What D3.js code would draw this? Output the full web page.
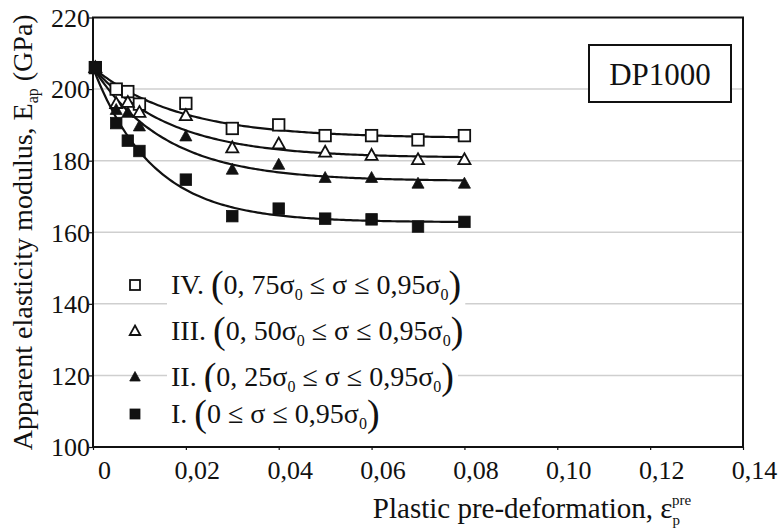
<!DOCTYPE html>
<html>
<head>
<meta charset="utf-8">
<script src="https://cdn.jsdelivr.net/npm/d3@7"></script>
<style>
  html, body { margin: 0; padding: 0; background: #fff; }
  svg { display: block; }
  text { font-family: "Liberation Serif", "Times New Roman", serif; fill: #111; }
</style>
</head>
<body>
<svg id="chart" width="778" height="531"></svg>
<script>
// ---------------- data ----------------
const strain = [0.0005, 0.005, 0.0075, 0.01, 0.02, 0.03, 0.04, 0.05, 0.06, 0.07, 0.08];
const seriesIV  = [206, 200, 199.3, 195.8, 196, 189, 190, 187, 187, 185.8, 187];
const seriesIII = [206, 196, 196.3, 193.5, 192.6, 183.6, 184.7, 182.4, 181.5, 180.3, 180.3];
const seriesII  = [206, 194.2, 193.4, 189.6, 186.8, 177.5, 178.9, 175.2, 175.2, 173.6, 173.6];
const seriesI   = [206, 190.5, 185.6, 182.7, 174.7, 164.5, 166.6, 163.8, 163.6, 161.6, 162.9];
const seriesNames = ["IV.", "III.", "II.", "I."];
const lowerBound = ["0, 75σ", "0, 50σ", "0, 25σ", "0"];
const lowerHasSub = [true, true, true, false];
const markerKinds = ["openSquare", "openTriangle", "filledTriangle", "filledSquare"];
const yTicks = [100, 120, 140, 160, 180, 200, 220];
const xTicks = [0, 0.02, 0.04, 0.06, 0.08, 0.10, 0.12, 0.14];
const xTickLabels = ["0", "0,02", "0,04", "0,06", "0,08", "0,10", "0,12", "0,14"];
const materialLabel = "DP1000";

const allSeries = [seriesIV, seriesIII, seriesII, seriesI];

// ---------------- layout ----------------
const svg = d3.select("#chart");
const L = 93, R = 743, T = 17.5, B = 447;
const x = d3.scaleLinear().domain([0, 0.14]).range([L, R]);
const y = d3.scaleLinear().domain([100, 220]).range([B, T]);

// gridlines
svg.append("g").selectAll("line").data(yTicks.filter(v => v > 100 && v < 220)).join("line")
  .attr("x1", L).attr("x2", R)
  .attr("y1", d => y(d)).attr("y2", d => y(d))
  .attr("stroke", "#cfcfcf").attr("stroke-width", 1.5);

// fitted trend curves y = a + (y0 - a) * exp(-x / c)
function fit(xs, ys) {
  const y0 = ys[0];
  let best = {a: 0, c: 0, e: Infinity};
  for (let a = 140; a <= 205; a += 0.1) {
    for (let c = 0.002; c <= 0.06; c += 0.0002) {
      let e = 0;
      for (let i = 0; i < xs.length; i++) {
        const p = a + (y0 - a) * Math.exp(-xs[i] / c);
        e += (p - ys[i]) ** 2;
      }
      if (e < best.e) best = {a, c, e};
    }
  }
  return x0 => best.a + (y0 - best.a) * Math.exp(-x0 / best.c);
}
const line = d3.line().x(d => x(d[0])).y(d => y(d[1])).curve(d3.curveLinear);
allSeries.forEach(s => {
  const f = fit(strain, s);
  const pts = d3.range(0, 0.08 + 1e-9, 0.0005).map(v => [v, f(v)]);
  pts[0][0] = strain[0];
  svg.append("path").datum(pts).attr("d", line)
    .attr("fill", "none").attr("stroke", "#111").attr("stroke-width", 2.2);
});

// markers
function drawMarker(g, kind, cx, cy, size) {
  const h = size / 2;
  if (kind === "openSquare" || kind === "filledSquare") {
    g.append("rect").attr("x", cx - h).attr("y", cy - h).attr("width", size).attr("height", size)
      .attr("fill", kind === "filledSquare" ? "#111" : "#fff")
      .attr("stroke", "#111").attr("stroke-width", kind === "filledSquare" ? 0.8 : 1.8);
  } else {
    const th = size * 0.95;
    const pts = [[cx, cy - th * 0.58], [cx + h * 1.05, cy + th * 0.42], [cx - h * 1.05, cy + th * 0.42]];
    g.append("polygon").attr("points", pts.map(p => p.join(",")).join(" "))
      .attr("fill", kind === "filledTriangle" ? "#111" : "#fff")
      .attr("stroke", "#111").attr("stroke-width", kind === "filledTriangle" ? 0.8 : 1.8)
      .attr("stroke-linejoin", "miter");
  }
}
const mg = svg.append("g");
allSeries.forEach((s, k) => {
  s.forEach((v, i) => drawMarker(mg, markerKinds[k], x(strain[i]), y(v), 11.5));
});

// legend
const legendY = [285, 331, 377, 414];
const lg = svg.append("g");
seriesNames.forEach((name, i) => {
  const cy = legendY[i];
  drawMarker(lg, markerKinds[i], 135, cy, 10);
  const box = lg.append("rect").attr("fill", "#fff");
  const t = lg.append("text").attr("x", 171).attr("y", cy + 9).attr("font-size", 28);
  t.append("tspan").text(name + " ");
  t.append("tspan").attr("font-size", 38).attr("dy", 3).text("(");
  t.append("tspan").attr("font-size", 28).attr("dy", -3).text(lowerBound[i]);
  if (lowerHasSub[i]) t.append("tspan").attr("font-size", 16).attr("dy", 6).text("0");
  t.append("tspan").attr("font-size", 28).attr("dy", lowerHasSub[i] ? -6 : 0).text(" ≤ σ ≤ 0,95σ");
  t.append("tspan").attr("font-size", 16).attr("dy", 6).text("0");
  t.append("tspan").attr("font-size", 38).attr("dy", -3).text(")");
  const bb = t.node().getBBox();
  box.attr("x", bb.x - 4).attr("y", cy - 22).attr("width", bb.width + 8).attr("height", 44);
});

// material label box
svg.append("rect").attr("x", 589).attr("y", 45).attr("width", 142).attr("height", 57)
  .attr("fill", "#fff").attr("stroke", "#111").attr("stroke-width", 2);
svg.append("text").attr("x", 660).attr("y", 85).attr("text-anchor", "middle")
  .attr("font-size", 31).text(materialLabel);

// frame
svg.append("rect").attr("x", L).attr("y", T).attr("width", R - L).attr("height", B - T)
  .attr("fill", "none").attr("stroke", "#111").attr("stroke-width", 2);

// y axis
const yAxis = d3.axisLeft(y).tickValues(yTicks).tickSize(4).tickFormat(d3.format("d"));
const ya = svg.append("g").attr("transform", `translate(${L},0)`).call(yAxis);
ya.select(".domain").remove();
ya.selectAll(".tick line").attr("stroke", "#111").attr("stroke-width", 1.2);
ya.selectAll(".tick text").attr("font-family", "Liberation Serif").attr("font-size", 26)
  .attr("fill", "#111").attr("x", -3).attr("dy", "0.34em");

// x axis
const xAxis = d3.axisBottom(x).tickValues(xTicks).tickSize(3).tickFormat((d, i) => xTickLabels[i]);
const xa = svg.append("g").attr("transform", `translate(0,${B})`).call(xAxis);
xa.select(".domain").remove();
xa.selectAll(".tick line").attr("stroke", "#111").attr("stroke-width", 1.2);
xa.selectAll(".tick text").attr("font-family", "Liberation Serif").attr("font-size", 26)
  .attr("fill", "#111").attr("x", 11).attr("y", 32).attr("dy", 0);

// axis titles
const xt = svg.append("text").attr("x", 532).attr("y", 518).attr("text-anchor", "middle").attr("font-size", 29);
xt.append("tspan").text("Plastic pre-deformation, ε");
xt.append("tspan").attr("font-size", 15).attr("dy", 7).text("p");
xt.append("tspan").attr("font-size", 15).attr("dx", -8).attr("dy", -20).text("pre");

const yt = svg.append("text").attr("transform", `translate(32,${(T + B) / 2}) rotate(-90)`)
  .attr("text-anchor", "middle").attr("font-size", 28);
yt.append("tspan").text("Apparent elasticity  modulus, E");
yt.append("tspan").attr("font-size", 16).attr("dy", 6).text("ap");
yt.append("tspan").attr("dy", -6).text(" (GPa)");
</script>
</body>
</html>
